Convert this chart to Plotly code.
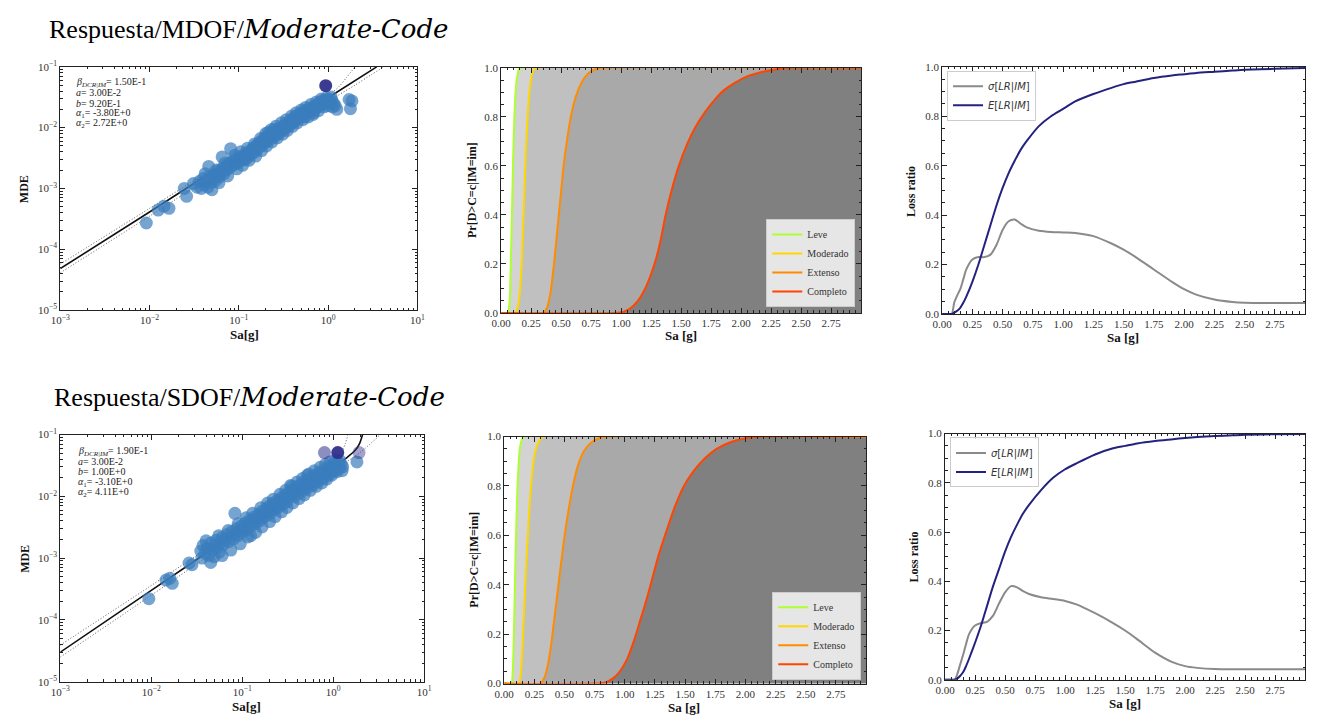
import plotly.graph_objects as go

# ---------------------------------------------------------------- data
# Probabilistic seismic demand model: (Sa [g], MDE) records
MDOF_POINTS = [
    (0.0092, 2.7e-4), (0.0125, 4.4e-4), (0.0145, 5.1e-4), (0.0165, 4.7e-4),
    (0.0245, 1.0e-3), (0.026, 7.4e-4), (0.031, 1.2e-3), (0.034, 1.05e-3),
    (0.036, 1.3e-3), (0.038, 1.0e-3), (0.040, 1.45e-3), (0.041, 1.15e-3),
    (0.043, 1.3e-3), (0.045, 1.05e-3), (0.046, 2.3e-3), (0.047, 1.55e-3),
    (0.049, 1.25e-3), (0.051, 1.45e-3), (0.053, 1.7e-3), (0.055, 1.35e-3),
    (0.057, 1.6e-3), (0.059, 1.95e-3), (0.061, 1.55e-3), (0.063, 1.8e-3),
    (0.065, 3.3e-3), (0.066, 2.15e-3), (0.068, 1.75e-3), (0.071, 2.0e-3),
    (0.073, 2.4e-3), (0.076, 2.1e-3), (0.079, 2.6e-3), (0.081, 4.5e-3),
    (0.082, 2.3e-3), (0.085, 2.8e-3), (0.088, 2.45e-3), (0.091, 3.0e-3),
    (0.094, 2.6e-3), (0.097, 2.9e-3), (0.100, 3.2e-3), (0.104, 2.8e-3),
    (0.108, 3.4e-3), (0.112, 3.0e-3), (0.116, 3.6e-3), (0.120, 3.2e-3),
    (0.125, 3.9e-3), (0.130, 3.5e-3), (0.135, 4.2e-3), (0.140, 3.7e-3),
    (0.145, 4.6e-3), (0.150, 4.0e-3), (0.155, 5.0e-3), (0.160, 4.4e-3),
    (0.165, 5.4e-3), (0.170, 4.8e-3), (0.176, 5.9e-3), (0.182, 5.2e-3),
    (0.190, 6.4e-3), (0.195, 5.6e-3), (0.200, 7.0e-3), (0.210, 6.1e-3),
    (0.215, 8.4e-3), (0.220, 7.4e-3), (0.230, 6.6e-3), (0.240, 8.0e-3),
    (0.250, 9.4e-3), (0.255, 7.3e-3), (0.265, 8.7e-3), (0.275, 7.9e-3),
    (0.285, 9.6e-3), (0.295, 8.6e-3), (0.305, 1.04e-2), (0.315, 9.3e-3),
    (0.330, 1.12e-2), (0.340, 1.0e-2), (0.355, 1.22e-2), (0.370, 1.1e-2),
    (0.385, 1.33e-2), (0.400, 1.2e-2), (0.415, 1.45e-2), (0.430, 1.3e-2),
    (0.450, 1.57e-2), (0.470, 1.42e-2), (0.490, 1.7e-2), (0.510, 1.55e-2),
    (0.530, 1.82e-2), (0.550, 1.67e-2), (0.580, 1.95e-2), (0.600, 1.8e-2),
    (0.630, 2.1e-2), (0.660, 1.95e-2), (0.680, 1.75e-2), (0.700, 2.25e-2),
    (0.730, 2.1e-2), (0.760, 2.45e-2), (0.790, 2.25e-2), (0.820, 2.65e-2),
    (0.850, 2.4e-2), (0.880, 2.8e-2), (0.910, 2.55e-2), (0.950, 2.85e-2),
    (0.980, 2.6e-2), (1.020, 2.9e-2), (1.060, 2.65e-2), (1.100, 2.8e-2),
    (1.150, 2.5e-2), (1.200, 2.3e-2), (1.250, 2.0e-2),
    (1.720, 2.9e-2), (1.780, 2.05e-2), (1.850, 2.75e-2),
    (0.042, 1.75e-3), (0.050, 9.5e-4), (0.056, 2.0e-3), (0.060, 1.25e-3),
    (0.070, 2.6e-3), (0.075, 1.6e-3), (0.090, 3.5e-3), (0.095, 2.1e-3),
    (0.105, 4.0e-3), (0.110, 2.4e-3), (0.125, 4.6e-3), (0.130, 2.9e-3),
    (0.150, 5.4e-3), (0.155, 3.4e-3), (0.175, 6.6e-3), (0.180, 4.2e-3),
    (0.200, 8.0e-3), (0.205, 5.0e-3), (0.230, 9.2e-3), (0.235, 5.8e-3),
    (0.260, 1.05e-2), (0.270, 6.8e-3), (0.300, 1.2e-2), (0.310, 7.8e-3),
    (0.340, 1.35e-2), (0.350, 9.0e-3), (0.390, 1.55e-2), (0.400, 1.05e-2),
    (0.440, 1.75e-2), (0.450, 1.2e-2), (0.500, 1.95e-2), (0.520, 1.35e-2),
    (0.560, 2.15e-2), (0.600, 1.5e-2), (0.640, 2.4e-2), (0.680, 1.65e-2),
    (0.740, 2.65e-2), (0.780, 1.9e-2), (0.840, 2.95e-2), (0.900, 2.2e-2),
    (0.960, 3.1e-2), (1.000, 2.3e-2), (1.080, 3.2e-2), (1.120, 2.2e-2),
    (0.700, 2.0e-2), (0.550, 1.5e-2), (0.250, 8.2e-3), (0.120, 3.0e-3),
]
MDOF_COLLAPSE = [(0.94, 0.049)]
MDOF_COLLAPSE_ALPHA = [0.95]

SDOF_POINTS = [
    (0.0094, 2.2e-4), (0.0145, 4.4e-4), (0.016, 4.7e-4), (0.017, 3.9e-4),
    (0.026, 8.3e-4), (0.028, 7.8e-4), (0.035, 1.3e-3), (0.036, 1.0e-3),
    (0.037, 1.6e-3), (0.039, 1.2e-3), (0.041, 1.45e-3), (0.043, 1.1e-3),
    (0.045, 1.75e-3), (0.047, 1.35e-3), (0.049, 1.05e-3), (0.050, 1.6e-3),
    (0.052, 1.95e-3), (0.054, 1.5e-3), (0.056, 1.25e-3), (0.058, 1.8e-3),
    (0.060, 2.15e-3), (0.062, 1.65e-3), (0.065, 2.0e-3), (0.068, 2.4e-3),
    (0.071, 1.85e-3), (0.074, 2.2e-3), (0.077, 2.7e-3), (0.080, 2.05e-3),
    (0.083, 5.3e-3), (0.084, 2.5e-3), (0.087, 3.0e-3), (0.090, 2.3e-3),
    (0.094, 2.75e-3), (0.098, 3.3e-3), (0.100, 2.6e-3), (0.104, 3.1e-3),
    (0.108, 3.7e-3), (0.112, 2.9e-3), (0.116, 3.5e-3), (0.120, 4.1e-3),
    (0.124, 2.3e-3), (0.125, 3.3e-3), (0.130, 3.9e-3), (0.135, 4.6e-3),
    (0.140, 3.6e-3), (0.145, 4.3e-3), (0.150, 5.1e-3), (0.155, 4.0e-3),
    (0.160, 4.8e-3), (0.165, 5.7e-3), (0.170, 4.5e-3), (0.176, 5.3e-3),
    (0.182, 6.3e-3), (0.188, 4.9e-3), (0.195, 5.9e-3), (0.200, 7.0e-3),
    (0.207, 5.5e-3), (0.214, 6.5e-3), (0.220, 7.8e-3), (0.228, 6.1e-3),
    (0.236, 7.2e-3), (0.245, 8.6e-3), (0.250, 6.7e-3), (0.260, 8.0e-3),
    (0.270, 9.5e-3), (0.280, 7.4e-3), (0.290, 8.9e-3), (0.300, 1.06e-2),
    (0.310, 8.2e-3), (0.320, 9.8e-3), (0.330, 1.17e-2), (0.340, 1.5e-2),
    (0.350, 1.08e-2), (0.360, 1.3e-2), (0.375, 1.0e-2), (0.390, 1.2e-2),
    (0.400, 1.44e-2), (0.420, 1.12e-2), (0.435, 1.33e-2), (0.450, 1.6e-2),
    (0.470, 1.25e-2), (0.490, 1.48e-2), (0.500, 1.78e-2), (0.520, 2.2e-2),
    (0.530, 1.4e-2), (0.550, 1.65e-2), (0.570, 1.97e-2), (0.600, 1.55e-2),
    (0.620, 1.83e-2), (0.640, 2.2e-2), (0.670, 1.72e-2), (0.700, 2.05e-2),
    (0.720, 2.45e-2), (0.750, 1.9e-2), (0.780, 2.3e-2), (0.800, 2.7e-2),
    (0.840, 2.1e-2), (0.870, 2.55e-2), (0.900, 3.0e-2), (0.940, 2.35e-2),
    (0.970, 2.8e-2), (1.000, 3.3e-2), (1.040, 2.6e-2), (1.080, 3.1e-2),
    (1.120, 3.5e-2), (1.170, 2.85e-2), (1.220, 3.3e-2), (1.270, 3.0e-2),
    (1.820, 3.6e-2),
    (0.040, 1.9e-3), (0.045, 8.5e-4), (0.055, 2.3e-3), (0.060, 1.1e-3),
    (0.070, 2.8e-3), (0.075, 1.35e-3), (0.090, 3.6e-3), (0.095, 1.7e-3),
    (0.110, 4.5e-3), (0.115, 2.2e-3), (0.130, 5.3e-3), (0.140, 2.6e-3),
    (0.160, 6.5e-3), (0.165, 3.2e-3), (0.190, 7.8e-3), (0.200, 3.9e-3),
    (0.220, 9.0e-3), (0.230, 4.7e-3), (0.260, 1.08e-2), (0.270, 5.6e-3),
    (0.300, 1.25e-2), (0.310, 6.6e-3), (0.350, 1.45e-2), (0.360, 7.8e-3),
    (0.400, 1.7e-2), (0.420, 9.2e-3), (0.460, 1.95e-2), (0.480, 1.05e-2),
    (0.540, 2.3e-2), (0.560, 1.25e-2), (0.620, 2.6e-2), (0.650, 1.45e-2),
    (0.720, 2.95e-2), (0.750, 1.65e-2), (0.820, 3.3e-2), (0.850, 1.9e-2),
    (0.920, 3.6e-2), (0.960, 2.2e-2), (1.050, 3.9e-2), (1.100, 2.5e-2),
    (1.180, 3.8e-2), (1.250, 2.6e-2),
]
SDOF_COLLAPSE = [(0.80, 0.051), (1.12, 0.051), (1.92, 0.051)]
SDOF_COLLAPSE_ALPHA = [0.55, 0.95, 0.45]

# Fitted median demand and +/- dispersion bounds (Sa, MDE)
MDOF_FIT = [(0.001, 4.8e-5), (0.01, 4.1e-4), (0.1, 3.6e-3), (1.0, 0.031), (3.5, 0.1)]
MDOF_UPPER = [(0.001, 5.7e-5), (0.01, 4.7e-4), (0.1, 3.9e-3), (1.0, 0.034),
              (1.3, 0.046), (1.6, 0.066), (2.0, 0.1)]
MDOF_LOWER = [(0.001, 4.1e-5), (0.01, 3.5e-4), (0.1, 3.1e-3), (1.0, 0.027),
              (2.0, 0.05), (3.0, 0.073), (4.2, 0.1)]
SDOF_FIT = [(0.001, 3.0e-5), (0.01, 3.0e-4), (0.1, 3.0e-3), (1.0, 0.03),
            (1.4, 0.042), (1.75, 0.056), (1.95, 0.072), (2.1, 0.1)]
SDOF_UPPER = [(0.001, 3.9e-5), (0.01, 3.6e-4), (0.1, 3.4e-3), (1.0, 0.034),
              (1.2, 0.048), (1.35, 0.07), (1.45, 0.1)]
SDOF_LOWER = [(0.001, 2.5e-5), (0.01, 2.5e-4), (0.1, 2.6e-3), (1.0, 0.026),
              (2.0, 0.052), (3.3, 0.1)]

MDOF_PARAMS = ["<i>β</i><sub><i>DCR|IM</i></sub>= 1.50E-1", "<i>a</i>= 3.00E-2",
               "<i>b</i>= 9.20E-1", "<i>α</i><sub>1</sub>= -3.80E+0",
               "<i>α</i><sub>2</sub>= 2.72E+0"]
SDOF_PARAMS = ["<i>β</i><sub><i>DCR|IM</i></sub>= 1.90E-1", "<i>a</i>= 3.00E-2",
               "<i>b</i>= 1.00E+0", "<i>α</i><sub>1</sub>= -3.10E+0",
               "<i>α</i><sub>2</sub>= 4.11E+0"]

# Fragility curves, Pr[D>C=c | IM=im]
DAMAGE_STATES = ["Leve", "Moderado", "Extenso", "Completo"]
MDOF_FRAG = {
    "Leve": ([0, 0.055, 0.07, 0.08, 0.09, 0.10, 0.11, 0.12, 0.13, 0.145, 0.165, 3.0],
             [0, 0, 0.05, 0.2, 0.42, 0.64, 0.8, 0.9, 0.955, 0.99, 1.0, 1.0]),
    "Moderado": ([0, 0.115, 0.13, 0.15, 0.165, 0.175, 0.185, 0.195, 0.205, 0.22, 0.235, 0.25, 0.27, 0.30, 3.0],
                 [0, 0, 0.01, 0.06, 0.15, 0.25, 0.38, 0.52, 0.65, 0.8, 0.9, 0.96, 0.99, 1.0, 1.0]),
    "Extenso": ([0, 0.35, 0.38, 0.41, 0.44, 0.46, 0.48, 0.50, 0.52, 0.55, 0.58, 0.62, 0.67, 0.72, 0.78, 0.86, 3.0],
                [0, 0, 0.02, 0.08, 0.2, 0.3, 0.4, 0.5, 0.6, 0.71, 0.8, 0.88, 0.94, 0.975, 0.993, 1.0, 1.0]),
    "Completo": ([0, 0.95, 1.02, 1.08, 1.14, 1.20, 1.25, 1.29, 1.33, 1.37, 1.42, 1.48, 1.55, 1.62, 1.70, 1.78, 1.86, 1.95, 2.05, 2.15, 2.27, 2.40, 3.0],
                 [0, 0, 0.005, 0.02, 0.05, 0.1, 0.16, 0.22, 0.3, 0.4, 0.5, 0.6, 0.69, 0.76, 0.82, 0.87, 0.91, 0.94, 0.965, 0.98, 0.992, 1.0, 1.0]),
}
SDOF_FRAG = {
    "Leve": ([0, 0.06, 0.07, 0.08, 0.09, 0.10, 0.11, 0.12, 0.13, 0.145, 0.165, 3.0],
             [0, 0, 0.04, 0.18, 0.42, 0.63, 0.79, 0.89, 0.95, 0.985, 1.0, 1.0]),
    "Moderado": ([0, 0.12, 0.135, 0.15, 0.16, 0.17, 0.18, 0.19, 0.20, 0.215, 0.23, 0.25, 0.27, 0.30, 0.33, 3.0],
                 [0, 0, 0.03, 0.13, 0.24, 0.35, 0.45, 0.55, 0.63, 0.75, 0.84, 0.92, 0.96, 0.99, 1.0, 1.0]),
    "Extenso": ([0, 0.30, 0.33, 0.36, 0.39, 0.42, 0.45, 0.48, 0.51, 0.54, 0.57, 0.61, 0.66, 0.72, 0.78, 0.86, 3.0],
                [0, 0, 0.02, 0.07, 0.16, 0.28, 0.4, 0.52, 0.63, 0.72, 0.8, 0.88, 0.94, 0.975, 0.992, 1.0, 1.0]),
    "Completo": ([0, 0.76, 0.84, 0.90, 0.96, 1.02, 1.08, 1.13, 1.18, 1.23, 1.28, 1.34, 1.41, 1.49, 1.57, 1.66, 1.76, 1.88, 2.00, 2.13, 3.0],
                 [0, 0, 0.005, 0.02, 0.05, 0.1, 0.18, 0.26, 0.34, 0.43, 0.52, 0.61, 0.71, 0.8, 0.86, 0.91, 0.95, 0.978, 0.993, 1.0, 1.0]),
}

# Loss ratio given intensity
LOSS_SA = [0, 0.05, 0.08, 0.10, 0.125, 0.15, 0.175, 0.20, 0.25, 0.30, 0.35, 0.40,
           0.45, 0.50, 0.55, 0.60, 0.65, 0.70, 0.80, 0.90, 1.00, 1.10, 1.25, 1.40,
           1.50, 1.60, 1.75, 1.90, 2.00, 2.10, 2.25, 2.40, 2.50, 2.75, 3.00]
MDOF_MEAN_LR = [0, 0, 0, 0.005, 0.013, 0.025, 0.045, 0.07, 0.13, 0.2, 0.28, 0.36,
                0.44, 0.51, 0.57, 0.62, 0.665, 0.7, 0.76, 0.8, 0.83, 0.86, 0.89, 0.915,
                0.93, 0.94, 0.955, 0.965, 0.97, 0.975, 0.98, 0.985, 0.988, 0.992, 0.995]
MDOF_STD_LR = [0, 0, 0, 0.045, 0.075, 0.1, 0.14, 0.18, 0.22, 0.23, 0.23, 0.24,
               0.28, 0.34, 0.375, 0.382, 0.365, 0.35, 0.337, 0.332, 0.33, 0.328, 0.315, 0.285,
               0.26, 0.23, 0.18, 0.13, 0.1, 0.078, 0.058, 0.048, 0.045, 0.044, 0.044]
SDOF_MEAN_LR = [0, 0, 0, 0.004, 0.015, 0.03, 0.055, 0.085, 0.15, 0.22, 0.3, 0.38,
                0.45, 0.52, 0.58, 0.63, 0.675, 0.71, 0.77, 0.82, 0.855, 0.88, 0.915, 0.94,
                0.95, 0.96, 0.97, 0.977, 0.982, 0.986, 0.99, 0.993, 0.995, 0.997, 0.998]
SDOF_STD_LR = [0, 0, 0, 0.02, 0.06, 0.1, 0.145, 0.185, 0.22, 0.23, 0.235, 0.26,
               0.31, 0.355, 0.38, 0.375, 0.36, 0.348, 0.335, 0.328, 0.32, 0.305, 0.27, 0.23,
               0.2, 0.165, 0.11, 0.07, 0.055, 0.048, 0.043, 0.042, 0.042, 0.042, 0.042]

LOG_X_TICKS = [1e-3, 1e-2, 1e-1, 1e0, 1e1]
LOG_X_TEXT = ["10<sup>−3</sup>", "10<sup>−2</sup>", "10<sup>−1</sup>", "10<sup>0</sup>", "10<sup>1</sup>"]
LOG_Y_TICKS = [1e-5, 1e-4, 1e-3, 1e-2, 1e-1]
LOG_Y_TEXT = ["10<sup>−5</sup>", "10<sup>−4</sup>", "10<sup>−3</sup>", "10<sup>−2</sup>", "10<sup>−1</sup>"]
SA_TICKS = [0, 0.25, 0.5, 0.75, 1.0, 1.25, 1.5, 1.75, 2.0, 2.25, 2.5, 2.75]
P_TICKS = [0, 0.2, 0.4, 0.6, 0.8, 1.0]

ROW_TITLES = ["Respuesta/MDOF/<i><span style='font-family:DejaVu Serif'>Moderate-Code</span></i>",
              "Respuesta/SDOF/<i><span style='font-family:DejaVu Serif'>Moderate-Code</span></i>"]

# ---------------------------------------------------------------- styling
W, H = 1319, 720
SERIF = "Liberation Serif"
SANS = "DejaVu Sans"
FRAG_COLORS = {"Leve": "#adff2f", "Moderado": "#ffd700", "Extenso": "#ff8c00", "Completo": "#ff4500"}
FRAG_FILLS = {"Leve": "#d3d3d3", "Moderado": "#c0c0c0", "Extenso": "#a9a9a9", "Completo": "#808080"}
DOT_COLOR = "rgba(59,126,189,0.7)"
STD_COLOR = "#8a8a8a"
MEAN_COLOR = "#23237f"

# panel boxes in pixels: left, top, right, bottom
BOX = {
    1: (51, 60, 413, 308), 2: (498, 61, 863, 311), 3: (945, 60, 1313, 312),
    4: (51, 435, 420, 687), 5: (501, 437, 868, 689), 6: (948, 434, 1313, 685),
}


def axis_names(i):
    return ("xaxis" if i == 1 else f"xaxis{i}", "yaxis" if i == 1 else f"yaxis{i}",
            "x" if i == 1 else f"x{i}", "y" if i == 1 else f"y{i}")


def frame_axis(**kw):
    base = dict(showline=True, linecolor="#222", linewidth=1, mirror="allticks",
                ticks="inside", ticklen=5, tickwidth=1, tickcolor="#222",
                showgrid=False, zeroline=False,
                tickfont=dict(family=SERIF, size=11, color="#333"))
    base.update(kw)
    return base


minor_log_x = [m * 10.0 ** e for e in range(-3, 1) for m in range(2, 10)]
minor_log_y = [m * 10.0 ** e for e in range(-5, -1) for m in range(2, 10)]

fig = go.Figure()
layout = dict(width=W, height=H, margin=dict(l=0, r=0, t=0, b=0),
              paper_bgcolor="white", plot_bgcolor="white", showlegend=True)

for i, (l, t, r, b) in BOX.items():
    xa, ya, xr, yr = axis_names(i)
    dom_x = [l / W, r / W]
    dom_y = [1 - b / H, 1 - t / H]
    if i in (1, 4):
        layout[xa] = frame_axis(domain=dom_x, anchor=yr, type="log", range=[-3, 1],
                                tickmode="array", tickvals=LOG_X_TICKS, ticktext=LOG_X_TEXT,
                                minor=dict(ticks="inside", ticklen=2.5, tickcolor="#222",
                                           tickmode="array", tickvals=minor_log_x))
        layout[ya] = frame_axis(domain=dom_y, anchor=xr, type="log", range=[-5, -1],
                                tickmode="array", tickvals=LOG_Y_TICKS, ticktext=LOG_Y_TEXT,
                                minor=dict(ticks="inside", ticklen=2.5, tickcolor="#222",
                                           tickmode="array", tickvals=minor_log_y))
    else:
        layout[xa] = frame_axis(domain=dom_x, anchor=yr, range=[0, 3],
                                tickmode="array", tickvals=SA_TICKS, tickformat=".2f",
                                minor=dict(ticks="inside", ticklen=2.5, tickcolor="#222",
                                           tickmode="linear", tick0=0, dtick=0.05))
        layout[ya] = frame_axis(domain=dom_y, anchor=xr, range=[0, 1],
                                tickmode="array", tickvals=P_TICKS, tickformat=".1f",
                                minor=dict(ticks="inside", ticklen=2.5, tickcolor="#222",
                                           tickmode="linear", tick0=0, dtick=0.05))


def xy(pairs):
    return [p[0] for p in pairs], [p[1] for p in pairs]


# ---------------------------------------------------------------- demand panels
for i, pts, hi, hi_alpha, fit, upper, lower in [
        (1, MDOF_POINTS, MDOF_COLLAPSE, MDOF_COLLAPSE_ALPHA, MDOF_FIT, MDOF_UPPER, MDOF_LOWER),
        (4, SDOF_POINTS, SDOF_COLLAPSE, SDOF_COLLAPSE_ALPHA, SDOF_FIT, SDOF_UPPER, SDOF_LOWER)]:
    _, _, xr, yr = axis_names(i)
    for bound in (upper, lower):
        bx, by = xy(bound)
        fig.add_trace(go.Scatter(x=bx, y=by, mode="lines", xaxis=xr, yaxis=yr,
                                 line=dict(color="#555", width=1, dash="1px,2px", shape="spline", smoothing=0.8),
                                 showlegend=False, hoverinfo="skip"))
    fx, fy = xy(fit)
    fig.add_trace(go.Scatter(x=fx, y=fy, mode="lines", xaxis=xr, yaxis=yr,
                             line=dict(color="#111", width=1.6, shape="spline", smoothing=0.8),
                             showlegend=False, hoverinfo="skip"))
    px_, py_ = xy(pts)
    fig.add_trace(go.Scatter(x=px_, y=py_, mode="markers", xaxis=xr, yaxis=yr,
                             marker=dict(size=13, color=DOT_COLOR, line=dict(width=0)),
                             showlegend=False))
    hx, hy = xy(hi)
    fig.add_trace(go.Scatter(x=hx, y=hy, mode="markers", xaxis=xr, yaxis=yr,
                             marker=dict(size=13, color=[f"rgba(48,48,140,{a})" for a in hi_alpha],
                                         line=dict(width=0)),
                             showlegend=False))

# ---------------------------------------------------------------- fragility panels
for i, frag, leg in [(2, MDOF_FRAG, "legend"), (5, SDOF_FRAG, "legend3")]:
    _, _, xr, yr = axis_names(i)
    for ds in DAMAGE_STATES:
        fx, fy = frag[ds]
        fig.add_trace(go.Scatter(x=fx, y=fy, mode="lines", fill="tozeroy", xaxis=xr, yaxis=yr,
                                 fillcolor=FRAG_FILLS[ds],
                                 line=dict(width=0, shape="spline", smoothing=0.6),
                                 showlegend=False, hoverinfo="skip"))
    for ds in DAMAGE_STATES:
        fx, fy = frag[ds]
        fig.add_trace(go.Scatter(x=fx, y=fy, mode="lines", name=ds, xaxis=xr, yaxis=yr,
                                 line=dict(color=FRAG_COLORS[ds], width=2, shape="spline", smoothing=0.6),
                                 legend=leg))

# ---------------------------------------------------------------- loss panels
for i, std, mean, leg in [(3, MDOF_STD_LR, MDOF_MEAN_LR, "legend2"),
                          (6, SDOF_STD_LR, SDOF_MEAN_LR, "legend4")]:
    _, _, xr, yr = axis_names(i)
    fig.add_trace(go.Scatter(x=LOSS_SA, y=std, mode="lines", xaxis=xr, yaxis=yr,
                             name="<i>σ</i>[<i>LR</i>|<i>IM</i>]",
                             line=dict(color=STD_COLOR, width=2, shape="spline", smoothing=0.7),
                             legend=leg))
    fig.add_trace(go.Scatter(x=LOSS_SA, y=mean, mode="lines", xaxis=xr, yaxis=yr,
                             name="<i>E</i>[<i>LR</i>|<i>IM</i>]",
                             line=dict(color=MEAN_COLOR, width=2, shape="spline", smoothing=0.7),
                             legend=leg))

# ---------------------------------------------------------------- legends
serif_leg = dict(bgcolor="rgba(255,255,255,0.8)", bordercolor="#cccccc", borderwidth=1,
                 font=dict(family=SERIF, size=10, color="#333"), itemwidth=30, tracegroupgap=0)
sans_leg = dict(serif_leg, font=dict(family=SANS, size=10, color="#333"))
layout["legend"] = dict(serif_leg, x=857 / W, y=1 - 305 / H, xanchor="right", yanchor="bottom")
layout["legend3"] = dict(serif_leg, x=863 / W, y=1 - 685 / H, xanchor="right", yanchor="bottom")
layout["legend2"] = dict(sans_leg, x=950 / W, y=1 - 64 / H, xanchor="left", yanchor="top")
layout["legend4"] = dict(sans_leg, x=953 / W, y=1 - 438 / H, xanchor="left", yanchor="top")


# ---------------------------------------------------------------- text
def ann(text, x, y, size, angle=0, family=SERIF, xanchor="center", color="#111"):
    return dict(text=text, x=x / W, y=1 - y / H, xref="paper", yref="paper", showarrow=False,
                textangle=angle, xanchor=xanchor, yanchor="middle",
                align="left" if xanchor == "left" else "center",
                font=dict(family=family, size=size, color=color))


annotations = [
    ann(ROW_TITLES[0], 38, 21, 26, xanchor="left", color="#000"),
    ann(ROW_TITLES[1], 43, 397, 26, xanchor="left", color="#000"),
    ann("<b>MDE</b>", 15, 185, 12, angle=-90),
    ann("<b>Sa[g]</b>", 238, 333, 13),
    ann("<b>Pr[D>C=c|IM=im]</b>", 469, 186, 12, angle=-90),
    ann("<b>Sa [g]</b>", 680, 334, 13),
    ann("<b>Loss ratio</b>", 914, 187, 12, angle=-90),
    ann("<b>Sa [g]</b>", 1128, 336, 13),
    ann("<b>MDE</b>", 15, 562, 12, angle=-90),
    ann("<b>Sa[g]</b>", 240, 712, 13),
    ann("<b>Pr[D>C=c|IM=im]</b>", 470, 563, 12, angle=-90),
    ann("<b>Sa [g]</b>", 683, 713, 13),
    ann("<b>Loss ratio</b>", 917, 560, 12, angle=-90),
    ann("<b>Sa [g]</b>", 1130, 709, 13),
]
for k, line in enumerate(MDOF_PARAMS):
    annotations.append(ann(line, 65, 76 + 10.5 * k, 10, xanchor="left", color="#222"))
for k, line in enumerate(SDOF_PARAMS):
    annotations.append(ann(line, 67, 452 + 10.5 * k, 10, xanchor="left", color="#222"))
layout["annotations"] = annotations

fig.update_layout(**layout)
fig.write_html("out.html")
